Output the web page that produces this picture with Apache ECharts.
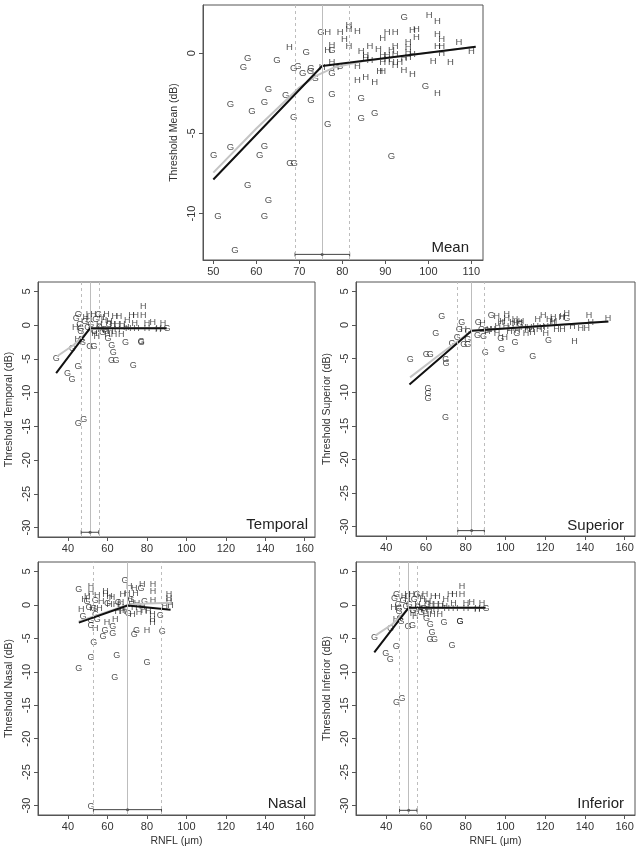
<!DOCTYPE html>
<html>
<head>
<meta charset="utf-8">
<script src="https://cdn.jsdelivr.net/npm/echarts@6/dist/echarts.min.js"></script>
<style>
html,body{margin:0;padding:0;background:#fff;}
#chart{width:642px;height:855px;}
</style>
</head>
<body>
<div id="chart"></div>
<script>
// ---------------- DATA ----------------
const meanG = [[75,1.3],[94.4,2.2],[58,-0.35],[57,-0.9],[64.8,-0.45],[71.6,0.05],[68.7,-0.95],[69.7,-0.8],[70.8,-1.25],[72.7,-0.95],[72.6,-1.15],[73.7,-1.6],[77.6,0.2],[77.6,-1.25],[79.4,-0.83],[62.8,-2.25],[61.9,-3.05],[54,-3.2],[59,-3.65],[66.8,-2.65],[72.7,-2.95],[77.6,-2.55],[68.7,-4.0],[76.6,-4.45],[84.4,-2.85],[84.4,-4.05],[87.5,-3.75],[99.3,-2.05],[91.4,-6.45],[50.1,-6.35],[54,-5.85],[61.9,-5.8],[60.8,-6.35],[67.8,-6.85],[68.8,-6.85],[58,-8.25],[62.8,-9.2],[51.1,-10.2],[61.9,-10.2],[55,-12.3]];
const meanH = [[76.6,1.3],[79.5,1.3],[81.5,1.75],[81.5,1.5],[81.5,0.45],[80.5,0.85],[83.5,1.35],[67.7,0.35],[77.6,0.5],[76.6,0.2],[75.3,-0.87],[77.6,-0.6],[78.5,-0.87],[83.5,-0.85],[83.5,-1.7],[85.4,-1.5],[87.5,-1.85],[84.4,0.1],[85.4,-0.15],[85.4,-0.35],[86.4,0.4],[86.4,-0.45],[88.4,0.25],[89.4,0.9],[90.4,1.3],[92.3,1.3],[91.4,0.15],[89.4,-0.15],[90.4,-0.15],[89.4,-0.6],[90.4,-0.4],[91.4,-0.55],[92.3,0.4],[92.3,-0.1],[92.3,-0.75],[93.3,-0.6],[94.3,-0.3],[88.7,-1.15],[89.4,-1.15],[94.3,-1.05],[95.3,0.65],[95.3,0.35],[95.3,0.05],[95.3,-0.25],[96.3,1.4],[97.2,1.45],[97.2,1.0],[96.3,-0.1],[96.3,-1.3],[100.2,2.35],[102.1,1.95],[102.1,1.15],[103.1,0.85],[102.1,0.45],[103.1,0.45],[103.1,0],[101.1,-0.5],[105.1,-0.55],[107.1,0.65],[110,0.1],[102.1,-2.5]];
const meanFit = [[50,-7.88],[75.3,-0.8],[111,0.4]];
const meanSmooth = [[50,-7.45],[60,-4.7],[70,-2.15],[74,-1.4],[78,-0.9],[85,-0.5],[111,0.4]];
const meanBreak = [69, 75.3, 81.7];
const meanCiY = -12.55;

const temporalG = [[34.1,-4.95],[42.2,-3.5],[39.8,-7.2],[42,-8.1],[45.1,-6.2],[45.2,-14.65],[48,-14.05],[51,-3.2],[53.2,-3.1],[60.3,-2.0],[62.2,-3.0],[63,-4.1],[62.1,-5.25],[64.3,-5.25],[69.1,-2.6],[73.1,-6.05],[77.1,-2.5],[77.1,-2.45],[90.2,-0.55],[45.2,1.6],[44.2,1.0],[55.5,1.6],[46,0.1],[46.5,-0.55],[46.5,-1.0],[46.9,-2.1],[47.4,-2.5],[51.6,0.1],[54.1,0.85],[60.8,0.1],[53.3,-0.9],[57.5,-1.15],[48.5,0.6],[50,-0.3],[56,-0.4],[58.5,-0.6]];
const temporalH = [[78.1,2.7],[78.1,1.5],[72.2,1.5],[74.4,1.5],[50.7,1.6],[52.8,1.6],[59.5,1.6],[63.7,1.25],[65.8,1.25],[70,0.75],[73.9,0.25],[80.1,0.25],[88.2,0.25],[86,-0.55],[80.1,-0.55],[74.7,-0.55],[43.7,-0.4],[54.6,-1.75],[60,-1.4],[63.3,-1.4],[67,-1.4],[44.9,-2.15],[50.7,0.8],[55.8,0.1],[58.3,0.75],[62.5,0.1],[65,0.1],[67.5,0.1],[56.6,-0.65],[59.1,-0.75],[61.6,-0.9],[65,-0.65],[69.5,-0.3],[57,1.2],[61,0.5],[49,1.2],[53.5,-1.3],[70.5,-0.55],[85.8,-0.65],[83,0.4]];
const temporalFit = [[34,-7.1],[51.2,-0.45],[90,-0.45]];
const temporalSmooth = [[34.5,-4.6],[43,-2.9],[51.2,-0.6],[60,-0.45],[90,-0.45]];
const temporalBreak = [46.7, 51.2, 55.6];
const temporalCiY = -30.7;

const superiorG = [[52.1,-5.2],[60.1,-4.45],[62.2,-4.45],[70,-5.2],[70.1,-5.8],[64.9,-1.2],[68,1.25],[73.1,-2.7],[75.8,-1.8],[78,0.4],[76.8,-0.6],[81.2,-0.95],[81,-2.15],[81,-2.95],[79,-2.95],[86,-1.6],[88.9,-1.75],[89.9,-4.1],[92.9,1.35],[97.7,-2.0],[98,-3.7],[104.8,-2.6],[105.7,-1.2],[113.7,-4.75],[121.7,-2.3],[130.9,1.0],[61,-9.4],[61,-10.2],[61,-10.9],[69.8,-13.7],[86.3,0.3],[90.4,-0.8],[88,-0.7],[107.5,0.1]];
const superiorH = [[95.6,1.25],[100.6,1.5],[100.6,1.0],[104.8,0.8],[104.8,0.2],[107.8,0.5],[97.7,0.3],[93.6,-0.7],[95.7,-1.2],[99.7,-1.9],[119,1.35],[124,1.15],[128.4,1.15],[130.9,1.75],[128.7,1.25],[142.1,1.35],[142.9,0.4],[151.6,0.9],[133.7,-0.2],[137.9,-0.45],[140.9,-0.45],[125.7,-0.7],[128.7,-0.7],[120.3,-0.2],[120.3,-1.2],[134.8,-2.4],[116.2,0.8],[123.7,0.3],[107,0.3],[109,-0.3],[111.1,-0.7],[113.1,-0.6],[115.3,-0.2],[117,-0.7],[110.3,-1.2],[113.6,-1.1],[102.8,-0.45],[100.3,-0.2],[91.9,-0.6],[91,-0.95],[96.1,-0.2],[103.6,0.3],[122,0.8],[124.5,0.5],[88.5,0.15],[79,-0.6],[106,-0.8],[112,-0.3],[118.5,-0.4],[98.5,0.5],[102,-1.0]];
const superiorFit = [[51.7,-8.85],[83,-0.85],[151.8,0.53]];
const superiorSmooth = [[52,-7.8],[67,-4.4],[83,-0.85],[151.8,0.53]];
const superiorBreak = [76, 83, 89.4];
const superiorCiY = -30.6;

const nasalG = [[45.5,2.3],[68.9,3.6],[77,2.5],[78.8,0.55],[86.8,-1.65],[87.8,-4.0],[74.7,-3.8],[73.6,-4.4],[80,-8.6],[64.7,-7.5],[63.7,-10.8],[45.5,-9.5],[51.7,-7.85],[53.1,-5.6],[57.8,-4.7],[58.8,-3.8],[62.7,-3.3],[62.7,-4.3],[51.7,-3.15],[51.7,-2.4],[47.6,-1.7],[54.8,-2.2],[49.6,0.45],[53.8,0.65],[51.7,-30.1],[50.6,-0.35],[53,-0.6],[54,-1.4],[65.5,0.3],[70.5,-1.3],[72,0.8],[60,0.2]];
const nasalH = [[51.7,2.75],[51.7,1.8],[54.8,1.45],[59,2.0],[59,1.5],[48.4,0.8],[49.7,1.3],[56.8,0.55],[61,1.3],[62.3,1.05],[46.7,-0.7],[53.8,-3.5],[59.8,-2.7],[64,-2.2],[71,2.75],[73.6,2.5],[77.7,3.0],[83.1,3.0],[83.1,2.0],[83.1,0.65],[91.2,1.55],[91.2,0.95],[91.2,0.45],[92,-0.05],[89,-0.25],[80,-3.8],[80.7,-1.05],[82.8,-1.5],[82.8,-2.2],[82.8,-2.7],[70,1.65],[74.2,1.65],[67.7,1.55],[66.9,0.3],[61,0.05],[65.2,-0.95],[67.7,-0.95],[72.7,-1.5],[76,-1.2],[73.6,-0.45],[77.7,-0.25],[71.3,0.8],[72.2,0.05],[64.3,0.05],[66.9,-0.45],[69,-0.9],[75,0.2],[78.5,-0.9],[52.5,-0.6],[56,-0.5]];
const nasalFit = [[45.5,-2.65],[70.2,-0.1],[92,-0.72]];
const nasalSmooth = [[45.5,-2.5],[70.2,0],[80,0.2],[92,0.3]];
const nasalBreak = [52.9, 70.2, 87.4];
const nasalCiY = -30.6;

// Inferior panel shows the same points as Temporal in the reference
const inferiorG = temporalG;
const inferiorH = temporalH;
const inferiorFit = temporalFit;
const inferiorSmooth = temporalSmooth;
const inferiorBreak = [46.7, 51.3, 55.5];
const inferiorCiY = -30.7;

const meanXTicks = [50,60,70,80,90,100,110];
const meanYTicks = [-10,-5,0];
const sectorXTicks = [40,60,80,100,120,140,160];
const sectorYTicks = [-30,-25,-20,-15,-10,-5,0,5];

// ---------------- CHART ----------------
const FONT = 'Liberation Sans, Arial, Helvetica, sans-serif';
const panels = [
  {name:'Mean', G:meanG, H:meanH, fit:meanFit, smooth:meanSmooth, brk:meanBreak, ciY:meanCiY,
   grid:{left:203, top:5, width:280, height:255}, x:[47.6,112.7], y:[-12.9,3.0],
   xt:meanXTicks, yt:meanYTicks, xName:'', lab:[469,248], fs:9.5},
  {name:'Temporal', G:temporalG, H:temporalH, fit:temporalFit, smooth:temporalSmooth, brk:temporalBreak, ciY:temporalCiY,
   grid:{left:38, top:282, width:277, height:255}, x:[24.8,165.2], y:[-31.4,6.4],
   xt:sectorXTicks, yt:sectorYTicks, xName:'', lab:[308,525], fs:9},
  {name:'Superior', G:superiorG, H:superiorH, fit:superiorFit, smooth:superiorSmooth, brk:superiorBreak, ciY:superiorCiY,
   grid:{left:356, top:282, width:279, height:254}, x:[24.8,165.2], y:[-31.4,6.4],
   xt:sectorXTicks, yt:sectorYTicks, xName:'', lab:[624,526], fs:9},
  {name:'Nasal', G:nasalG, H:nasalH, fit:nasalFit, smooth:nasalSmooth, brk:nasalBreak, ciY:nasalCiY,
   grid:{left:38, top:562, width:277, height:253}, x:[24.8,165.2], y:[-31.4,6.4],
   xt:sectorXTicks, yt:sectorYTicks, xName:'RNFL (μm)', lab:[306,804], fs:9},
  {name:'Inferior', G:inferiorG, H:inferiorH, fit:inferiorFit, smooth:inferiorSmooth, brk:inferiorBreak, ciY:inferiorCiY,
   grid:{left:356, top:562, width:279, height:253}, x:[24.8,165.2], y:[-31.4,6.4],
   xt:sectorXTicks, yt:sectorYTicks, xName:'RNFL (μm)', lab:[624,804], fs:9}
];

const grids=[], xAxes=[], yAxes=[], series=[], graphics=[];
panels.forEach((p,i)=>{
  grids.push(Object.assign({show:true, borderColor:'#555', borderWidth:1, containLabel:false}, p.grid));
  xAxes.push({gridIndex:i, type:'value', min:p.x[0], max:p.x[1], position:'bottom',
    splitLine:{show:false}, axisLine:{show:true, onZero:false, lineStyle:{color:'#555', width:1}},
    axisTick:{show:true, inside:false, length:4, customValues:p.xt, lineStyle:{color:'#555'}},
    axisLabel:{customValues:p.xt, margin:6, fontSize:11, color:'#333', fontFamily:FONT},
    name:p.xName, nameLocation:'middle', nameGap:21, nameTextStyle:{fontSize:10.5, color:'#333', fontFamily:FONT}});
  yAxes.push({gridIndex:i, type:'value', min:p.y[0], max:p.y[1], position:'left',
    splitLine:{show:false}, axisLine:{show:true, onZero:false, lineStyle:{color:'#555', width:1}},
    axisTick:{show:true, inside:false, length:4, customValues:p.yt, lineStyle:{color:'#555'}},
    axisLabel:{customValues:p.yt, rotate:90, margin:6, fontSize:11, color:'#333', fontFamily:FONT},
    name:'Threshold '+p.name+' (dB)', nameLocation:'middle', nameGap:23, nameRotate:90,
    nameTextStyle:{fontSize:10.5, color:'#333', fontFamily:FONT}});
  const mkText = (data, letter) => ({type:'scatter', xAxisIndex:i, yAxisIndex:i, data:data, symbolSize:1,
    itemStyle:{color:'rgba(0,0,0,0)'}, silent:true, z:2,
    label:{show:true, position:'inside', formatter:letter, fontSize:p.fs, color:'#1e1e1e', fontFamily:FONT}});
  series.push(mkText(p.G,'G'));
  series.push(mkText(p.H,'H'));
  // break-point vertical lines
  series.push({type:'line', xAxisIndex:i, yAxisIndex:i, data:[], silent:true, z:1,
    markLine:{silent:true, symbol:'none', label:{show:false}, animation:false,
      data:[
        {xAxis:p.brk[0], lineStyle:{color:'#bdbdbd', type:[3,3], width:1}},
        {xAxis:p.brk[1], lineStyle:{color:'#bdbdbd', type:'solid', width:1}},
        {xAxis:p.brk[2], lineStyle:{color:'#bdbdbd', type:[3,3], width:1}}
      ]}});
  // smooth (grey) and broken-stick (black) fits
  series.push({type:'line', xAxisIndex:i, yAxisIndex:i, data:p.smooth, symbol:'none', silent:true, z:3,
    lineStyle:{color:'#c4c4c4', width:2}});
  series.push({type:'line', xAxisIndex:i, yAxisIndex:i, data:p.fit, symbol:'none', silent:true, z:4,
    lineStyle:{color:'#111', width:2}});
  // CI bar at bottom
  series.push({type:'line', xAxisIndex:i, yAxisIndex:i, data:[[p.brk[0],p.ciY],[p.brk[2],p.ciY]],
    symbol:'rect', symbolSize:[1,4], silent:true, z:4, itemStyle:{color:'#444'}, lineStyle:{color:'#444', width:1}});
  series.push({type:'scatter', xAxisIndex:i, yAxisIndex:i, data:[[p.brk[1],p.ciY]], symbol:'circle', symbolSize:3,
    silent:true, z:5, itemStyle:{color:'#444'}});
  graphics.push({type:'text', x:p.lab[0], y:p.lab[1], silent:true,
    style:{text:p.name, textAlign:'right', textVerticalAlign:'middle', align:'right', verticalAlign:'middle',
      fontSize:15, fontFamily:FONT, fill:'#222'}});
});

const chart = echarts.init(document.getElementById('chart'), null, {renderer:'canvas'});
chart.setOption({
  animation:false,
  backgroundColor:'#fff',
  grid:grids, xAxis:xAxes, yAxis:yAxes, series:series, graphic:graphics
});
</script>
</body>
</html>
